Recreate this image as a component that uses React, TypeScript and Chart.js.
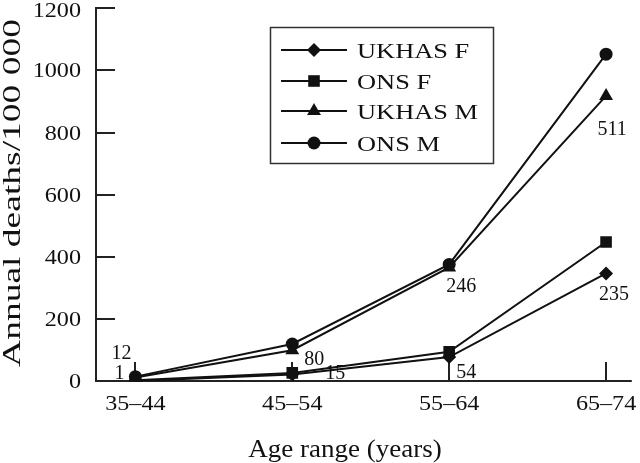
import React, { useEffect, useRef } from 'react';
import { Chart, registerables } from 'chart.js';

Chart.register(...registerables);

// ---------- data ----------
const categories = ['35–44', '45–54', '55–64', '65–74'];
const seriesNames = ['UKHAS F', 'ONS F', 'UKHAS M', 'ONS M'];
const ukhasF = [1, 22, 78, 347];
const onsF = [3, 27, 95, 448];
const ukhasM = [12, 100, 366, 918];
const onsM = [15, 120, 376, 1052];
const yTicks = [0, 200, 400, 600, 800, 1000, 1200];
const yTitle = 'Annual deaths/100 000';
const xTitle = 'Age range (years)';
// numbers of deaths written next to UKHAS points
const annotationTexts = ['12', '1', '80', '15', '246', '54', '511', '235'];
const annotationSeries = [2, 0, 2, 0, 2, 0, 2, 0];
const annotationCategory = [0, 0, 1, 1, 2, 2, 3, 3];

// ---------- styles ----------
const FONT = '"Liberation Serif", "Times New Roman", Times, serif';
const INK = '#111';
const AXIS = '#222';
const pointStyles = ['rectRot', 'rect', 'triangle', 'circle'];
const pointRadii = [7, 8.2, 8, 6.5];
const annotationOffsets: [number, number][] = [
  [-14, -26], [-16, -9], [22, 8], [43, -2], [12, 17], [17, 14], [6, 32], [8, 20],
];

function stretchedText(
  ctx: CanvasRenderingContext2D, text: string, x: number, y: number,
  size: number, sx: number, align: CanvasTextAlign,
) {
  ctx.save();
  ctx.font = `${size}px ${FONT}`;
  ctx.translate(x, y);
  ctx.scale(sx, 1);
  ctx.textAlign = align;
  ctx.textBaseline = 'alphabetic';
  ctx.fillStyle = INK;
  ctx.fillText(text, 0, 0);
  ctx.restore();
}

function drawMarker(ctx: CanvasRenderingContext2D, style: string, x: number, y: number, r: number) {
  ctx.beginPath();
  if (style === 'circle') {
    ctx.arc(x, y, r, 0, Math.PI * 2);
  } else if (style === 'rect') {
    const s = Math.SQRT1_2 * r;
    ctx.rect(x - s, y - s, 2 * s, 2 * s);
  } else if (style === 'rectRot') {
    ctx.moveTo(x - r, y);
    ctx.lineTo(x, y - r);
    ctx.lineTo(x + r, y);
    ctx.lineTo(x, y + r);
  } else {
    let a = 0;
    ctx.moveTo(x + Math.sin(a) * r, y - Math.cos(a) * r);
    a += (2 * Math.PI) / 3;
    ctx.lineTo(x + Math.sin(a) * r, y - Math.cos(a) * r);
    a += (2 * Math.PI) / 3;
    ctx.lineTo(x + Math.sin(a) * r, y - Math.cos(a) * r);
  }
  ctx.closePath();
  ctx.fillStyle = INK;
  ctx.fill();
}

const framePlugin = {
  id: 'frame',
  beforeDatasetsDraw(chart: any) {
    const { ctx, chartArea } = chart;
    const xs = chart.scales.x;
    const ys = chart.scales.y;
    const left = Math.round(chartArea.left);
    const bottom = Math.round(chartArea.bottom);
    ctx.save();
    ctx.strokeStyle = AXIS;
    ctx.lineWidth = 2;
    ctx.beginPath();
    ctx.moveTo(left, Math.round(chartArea.top) - 1);
    ctx.lineTo(left, bottom);
    ctx.lineTo(chartArea.right, bottom);
    ctx.stroke();
    // inward ticks
    ctx.beginPath();
    yTicks.forEach((v) => {
      if (v === 0) return;
      const py = Math.round(ys.getPixelForValue(v));
      ctx.moveTo(left, py);
      ctx.lineTo(left + 19, py);
    });
    categories.forEach((_, i) => {
      const px = Math.round(xs.getPixelForValue(i));
      ctx.moveTo(px, bottom);
      ctx.lineTo(px, bottom - 19);
    });
    ctx.stroke();
    ctx.restore();

    // tick labels
    yTicks.forEach((v) => {
      const py = Math.max(ys.getPixelForValue(v), 10);
      stretchedText(ctx, String(v), left - 15, py + 7, 21, 1.15, 'right');
    });
    categories.forEach((c, i) => {
      const px = xs.getPixelForValue(i);
      stretchedText(ctx, c, px, bottom + 29, 21, 1.15, 'center');
    });

    // axis titles
    stretchedText(ctx, xTitle, 345, 456.5, 25, 1.08, 'center');
    ctx.save();
    ctx.translate(20, 193);
    ctx.rotate(-Math.PI / 2);
    ctx.scale(1.5, 1);
    ctx.font = `25px ${FONT}`;
    ctx.textAlign = 'center';
    ctx.textBaseline = 'alphabetic';
    ctx.fillStyle = INK;
    ctx.fillText(yTitle, 0, 0);
    ctx.restore();
  },
  afterDatasetsDraw(chart: any) {
    const { ctx } = chart;
    // annotations
    annotationTexts.forEach((t, k) => {
      const meta = chart.getDatasetMeta(annotationSeries[k]);
      const pt = meta.data[annotationCategory[k]];
      const [dx, dy] = annotationOffsets[k];
      stretchedText(ctx, t, pt.x + dx, pt.y + dy + 7, 20, 1.0, 'center');
    });

    // legend
    ctx.save();
    ctx.strokeStyle = '#333';
    ctx.lineWidth = 1.5;
    ctx.strokeRect(270.5, 27.5, 223, 136);
    const rows = [50, 81, 111, 143];
    seriesNames.forEach((name, i) => {
      const y = rows[i];
      ctx.strokeStyle = INK;
      ctx.lineWidth = 2;
      ctx.beginPath();
      ctx.moveTo(281, y);
      ctx.lineTo(347, y);
      ctx.stroke();
      drawMarker(ctx, pointStyles[i], 314, y, pointRadii[i]);
      stretchedText(ctx, name, 357, y + 7.5, 22, 1.2, 'left');
    });
    ctx.restore();
  },
};

export default function App() {
  const ref = useRef<HTMLCanvasElement | null>(null);
  useEffect(() => {
    document.body.style.margin = '0';
    const canvas = ref.current;
    if (!canvas) return;
    const allSeries = [ukhasF, onsF, ukhasM, onsM];
    const chart = new Chart(canvas, {
      type: 'line',
      data: {
        datasets: allSeries.map((vals, i) => ({
          label: seriesNames[i],
          data: vals.map((v, j) => ({ x: j, y: v })),
          borderColor: INK,
          backgroundColor: INK,
          borderWidth: 2,
          pointStyle: pointStyles[i] as any,
          pointRadius: pointRadii[i],
          pointBorderWidth: 0,
          pointBackgroundColor: INK,
          tension: 0,
          fill: false,
        })),
      },
      options: {
        responsive: false,
        animation: false,
        layout: { padding: { left: 96, top: 7.3, right: 0, bottom: 81.7 } },
        plugins: { legend: { display: false }, tooltip: { enabled: false }, title: { display: false } },
        scales: {
          x: { type: 'linear', min: -0.251, max: 3.164, display: false },
          y: { type: 'linear', min: 0, max: 1200, display: false },
        },
      },
      plugins: [framePlugin],
    });
    return () => chart.destroy();
  }, []);
  return (
    <div style={{ width: 640, height: 463, background: '#fff' }}>
      <canvas ref={ref} width={640} height={463} style={{ display: 'block' }} />
    </div>
  );
}
